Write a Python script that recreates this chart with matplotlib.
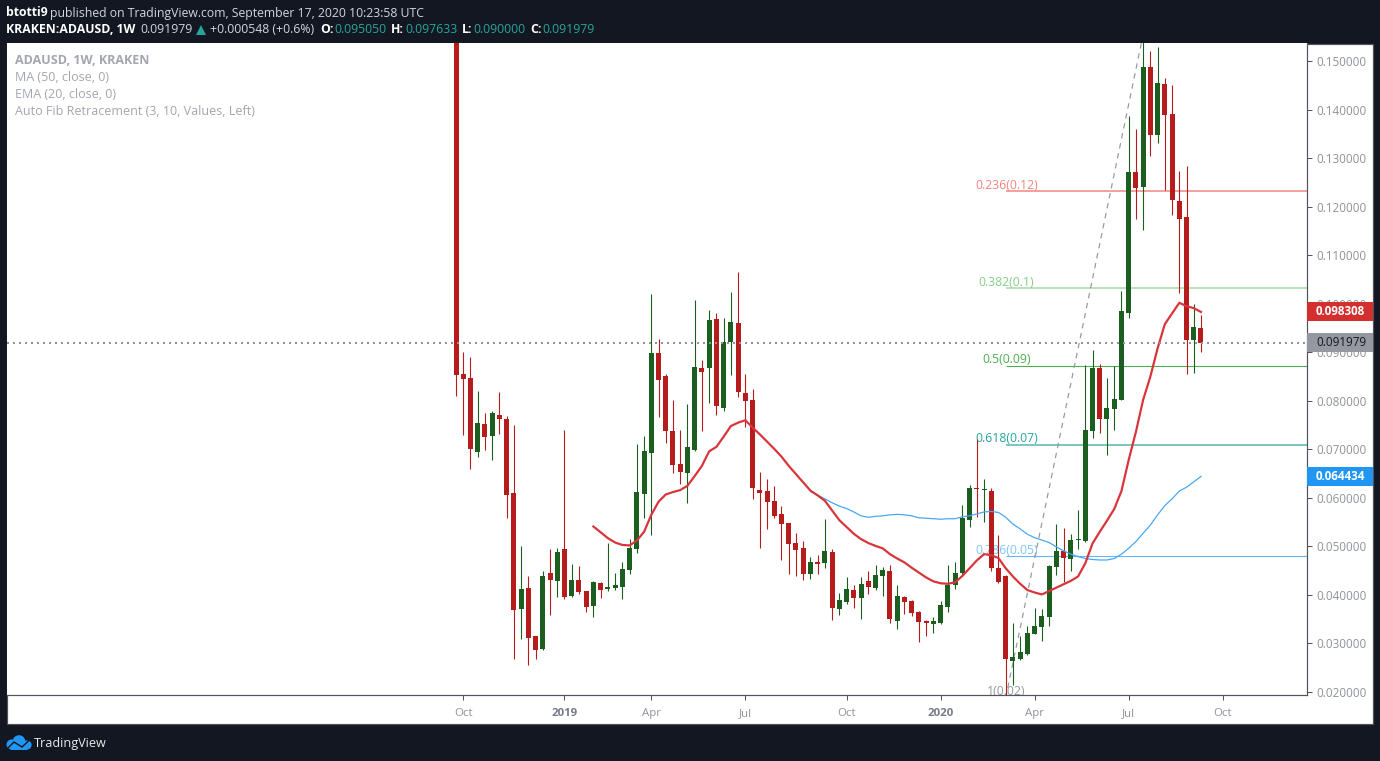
import numpy as np
import matplotlib
matplotlib.use('Agg')
import matplotlib.pyplot as plt
from matplotlib.patches import Rectangle, Circle, Polygon

plt.rcParams['font.family'] = ['Open Sans', 'DejaVu Sans']

# Weekly candles, index 0 = week of 24 Sep 2018
opens = [.1700, .0855, .0847, .0695, .0752, .0728, .0771, .0763, .0610, .0371,
         .0414, .0315, .0289, .0445, .0429, .0495, .0398, .0431, .0408, .0377,
         .0425, .0412, .0414, .0416, .0451, .0495, .0608, .0693, .0899, .0851,
         .0738, .0670, .0651, .0699, .0868, .0868, .0969, .0785, .0921, .0960,
         .0816, .0802, .0616, .0614, .0594, .0567, .0548, .0507, .0497, .0443,
         .0468, .0466, .0489, .0371, .0385, .0410, .0394, .0429, .0414, .0439,
         .0449, .0346, .0396, .0388, .0365, .0346, .0340, .0342, .0375, .0421,
         .0445, .0554, .0620, .0616, .0614, .0456, .0439, .0264, .0268, .0278,
         .0320, .0334, .0355, .0458, .0491, .0474, .0513, .0511, .0738, .0868,
         .0763, .0783, .0802, .0981, .1272, .1241, .1488, .1348, .1453, .1391,
         .1212, .1179, .0925, .09505]
highs = [.1750, .0901, .0890, .0820, .0775, .0779, .0818, .0769, .0750, .0501,
         .0439, .0316, .0449, .0495, .0497, .0740, .0464, .0460, .0409, .0429,
         .0426, .0507, .0445, .0468, .0515, .0711, .0728, .1020, .0927, .0855,
         .0802, .0740, .0793, .1008, .0884, .0987, .0981, .0971, .1024, .1066,
         .0855, .0824, .0653, .0639, .0625, .0583, .0549, .0528, .0511, .0478,
         .0482, .0556, .0495, .0404, .0437, .0421, .0437, .0449, .0462, .0458,
         .0462, .0421, .0397, .0390, .0366, .0348, .0355, .0388, .0462, .0468,
         .0585, .0627, .0721, .0639, .0620, .0524, .0441, .0342, .0315, .0336,
         .0373, .0371, .0462, .0546, .0538, .0526, .0575, .0874, .0905, .0876,
         .0847, .0872, .1026, .1387, .1360, .1555, .1521, .1529, .1465, .1451,
         .1274, .1284, .0999, .097633]
lows = [.0809, .0730, .0660, .0684, .0699, .0678, .0732, .0559, .0268, .0309,
        .0256, .0268, .0287, .0359, .0396, .0392, .0396, .0402, .0365, .0355,
        .0394, .0408, .0410, .0392, .0443, .0486, .0559, .0524, .0767, .0713,
        .0651, .0629, .0589, .0697, .0738, .0796, .0771, .0779, .0853, .0808,
        .0747, .0598, .0497, .0536, .0559, .0472, .0443, .0439, .0431, .0433,
        .0443, .0456, .0348, .0359, .0381, .0373, .0350, .0402, .0410, .0398,
        .0342, .0330, .0361, .0357, .0303, .0315, .0322, .0341, .0365, .0412,
        .0441, .0540, .0561, .0550, .0449, .0425, .0188, .0214, .0266, .0276,
        .0319, .0305, .0336, .0441, .0427, .0449, .0495, .0509, .0723, .0734,
        .0688, .0740, .0801, .0971, .1175, .1152, .1305, .1331, .1234, .1183,
        .1022, .0855, .0857, .0900]
closes = [.0853, .0845, .0701, .0754, .0725, .0775, .0763, .0606, .0369, .0412,
          .0311, .0287, .0439, .0431, .0489, .0396, .0431, .0406, .0375, .0427,
          .0410, .0416, .0421, .0453, .0497, .0612, .0697, .0899, .0843, .0738,
          .0668, .0653, .0705, .0870, .0859, .0967, .0789, .0921, .0962, .0818,
          .0800, .0620, .0610, .0592, .0563, .0546, .0505, .0493, .0443, .0468,
          .0464, .0491, .0373, .0390, .0412, .0394, .0423, .0416, .0441, .0451,
          .0350, .0398, .0385, .0363, .0344, .0342, .0346, .0379, .0421, .0445,
          .0559, .0620, .0618, .0618, .0456, .0427, .0268, .0272, .0282, .0322,
          .0336, .0357, .0460, .0491, .0476, .0513, .0515, .0740, .0868, .0763,
          .0785, .0804, .0985, .1272, .1239, .1488, .1348, .1455, .1389, .1214,
          .1175, .0925, .0952, .091979]

# EMA 20 starts at candle 19, MA 50 at candle 49
ema_start = 19
ema = [.0541, .0529, .0517, .0508, .0503, .0502, .0512, .0530, .0565, .0592,
       .0607, .0612, .0616, .0625, .0645, .0666, .0696, .0705, .0726, .0748,
       .0755, .0760, .0745, .0731, .0716, .0701, .0685, .0666, .0649, .0632,
       .0615, .0605, .0594, .0574, .0554, .0540, .0526, .0515, .0507, .0501,
       .0496, .0484, .0475, .0467, .0456, .0446, .0436, .0428, .0424, .0423,
       .0426, .0439, .0455, .0471, .0484, .0482, .0476, .0455, .0438, .0423,
       .0410, .0405, .0401, .0408, .0415, .0422, .0429, .0438, .0465, .0506,
       .0530, .0553, .0577, .0614, .0678, .0736, .0802, .0850, .0908, .0958,
       .0980, .1002, .0995, .0991, .098308]
ma_start = 49
ma = [.0613, .0606, .0598, .0590, .0583, .0578, .0571, .0563, .0560, .0562,
      .0563, .0565, .0566, .0565, .0563, .0559, .0558, .0557, .0556, .0557,
      .0557, .0561, .0563, .0567, .0571, .0572, .0570, .0560, .0546, .0536,
      .0525, .0518, .0513, .0508, .0499, .0491, .0484, .0479, .0475, .0473,
      .0472, .0472, .0475, .0484, .0496, .0510, .0527, .0544, .0565, .0584,
      .0598, .0614, .0622, .0633, .064434]

# Auto fib, anchored at candles 76 (low) and 95 (high)
fib_anchor = 76
fib_top = 95
fib_low = .0188
fib_high = .1555
fib_prices = [.1232, .1032, .0872, .0709, .0480, .0188]
fib_labels = ['0.236(0.12)', '0.382(0.1)', '0.5(0.09)', '0.618(0.07)', '0.786(0.05)', '1(0.02)']
fib_colors = ['#f28b86', '#a9dcab', '#4caf50', '#7cc8bd', '#64b5f6', '#a0a3ab']
fib_text_colors = ['#f4837d', '#86cf89', '#4caf50', '#26a69a', '#7fc4f8', '#9598a1']
fib_widths = [1.6, 1.6, 1.1, 2, 1.1, 1]

tick_weeks = [1, 15, 27, 40, 54, 67, 80, 93, 106]
tick_names = ['Oct', '2019', 'Apr', 'Jul', 'Oct', '2020', 'Apr', 'Jul', 'Oct']
price_ticks = [.02, .03, .04, .05, .06, .07, .08, .09, .10, .11, .12, .13, .14, .15]

RED = '#b71c1c'
GREEN = '#1b5e20'
DARK = '#131722'
GREY = '#8f929b'
BORDER = '#50535e'
TEAL = '#26a69a'

W, H = 1380, 761
fig = plt.figure(figsize=(W / 100, H / 100), dpi=100, facecolor=DARK)


def pt(px):
    return px * 72 / 100


# Pixel overlay for the page furniture
bg = fig.add_axes([0, 0, 1, 1], zorder=0)
bg.set_xlim(0, W)
bg.set_ylim(H, 0)
bg.axis('off')
bg.add_patch(Rectangle((6.5, 43.5), 1366.5, 680.5, fc='white', ec=BORDER, lw=pt(1.2)))

# Price pane
ax = fig.add_axes([7 / W, 1 - 695 / H, 1300 / W, 652 / H], zorder=1)
ax.set_facecolor('white')
x0 = -449 / 7.233
ax.set_xlim(x0, x0 + 1300 / 7.233)
ymin, ymax = .01938, .15373
ax.set_ylim(ymin, ymax)
for side in ['top', 'left']:
    ax.spines[side].set_visible(False)
for side in ['right', 'bottom']:
    ax.spines[side].set_color(BORDER)
    ax.spines[side].set_linewidth(pt(1.2))

ax.yaxis.tick_right()
ax.set_yticks(price_ticks)
ax.set_yticklabels(['%.6f' % p for p in price_ticks], fontsize=pt(11.6), color=GREY)
ax.tick_params(axis='y', length=pt(5), width=pt(1), color=BORDER, pad=pt(4))
ax.set_xticks(tick_weeks)
ax.set_xticklabels(tick_names, fontsize=pt(11.5), color=GREY)
ax.tick_params(axis='x', length=pt(5), width=pt(1), color=BORDER, pad=pt(8))
for lab in ax.get_xticklabels():
    if lab.get_text().startswith('20'):
        lab.set_fontweight('bold')
        lab.set_color('#787b86')

# Fib levels sit behind the candles
for price, name, col, tcol, lw in zip(fib_prices, fib_labels, fib_colors, fib_text_colors, fib_widths):
    if price > fib_low:
        ax.plot([fib_anchor, x0 + 1300 / 7.233], [price, price], color=col, lw=pt(lw), zorder=1,
                solid_capstyle='butt')
    ax.text(fib_anchor + 0.1, price - .0001, name, color=tcol, fontsize=pt(12.2), ha='center',
            va='bottom', zorder=1, clip_on=True)
ax.plot([fib_anchor, fib_top], [fib_low, fib_high], color='#9598a1', lw=pt(1.2), ls=(0, (4.5, 4)), zorder=1)

# Candles
x = np.arange(len(opens))
o = np.array(opens)
h = np.array(highs)
l = np.array(lows)
c = np.array(closes)
colors = [RED if a > b else GREEN for a, b in zip(o, c)]
ax.vlines(x, l, h, colors=colors, lw=pt(1.1), zorder=2)
ax.bar(x, np.abs(o - c), bottom=np.minimum(o, c), width=5 / 7.233, color=colors, lw=0, zorder=3)

# Moving averages on top
ax.plot(np.arange(len(ma)) + ma_start, ma, color='#42a5f5', lw=pt(1.2), zorder=4)
ax.plot(np.arange(len(ema)) + ema_start, ema, color='#d8343a', lw=pt(2.2), zorder=4)

# Last price
ax.axhline(closes[-1], color='#8f929b', lw=pt(2), ls=(0, (1, 2)), zorder=4)

# Price tags on the scale
box_w = (1373 - 1307) / 1300
box_h = (ymax - ymin) * 19 / 652
yt = ax.get_yaxis_transform()
tags = [(ema[-1], '#d32f2f', 'white', 'bold'),
        (closes[-1], '#9598a1', DARK, 'normal'),
        (ma[-1], '#2196f3', 'white', 'bold')]
for price, fc, tc, wt in tags:
    ax.add_patch(Rectangle((1, price - box_h / 2), box_w, box_h, transform=yt, fc=fc, ec='none',
                           clip_on=False, zorder=6))
    ax.text(1 + 9 / 1300, price, '%.6f' % price, transform=yt, color=tc, fontsize=pt(11.6),
            fontweight=wt, va='center', ha='left', clip_on=False, zorder=7)

# Header
top = fig.add_axes([0, 0, 1, 1], zorder=2)
top.set_xlim(0, W)
top.set_ylim(H, 0)
top.axis('off')
LIGHT = '#d1d4dc'


def txt(px, py, s, col=LIGHT, wt='normal', size=12.2):
    top.text(px, py, s, color=col, fontweight=wt, fontsize=pt(size), va='center', ha='left')


txt(6, 13, 'btotti9', 'white', 'bold')
txt(50.5, 13, 'published on TradingView.com, September 17, 2020 10:23:58 UTC')
txt(6, 29.5, 'KRAKEN:ADAUSD, 1W', 'white', 'bold')
txt(140, 29.5, '0.091979')
top.add_patch(Polygon([[196, 35], [206, 35], [201, 25]], fc=TEAL, ec='none'))
txt(210, 29.5, '+0.000548 (+0.6%)')
for px, s in [(320, 'O:'), (391, 'H:'), (462, 'L:'), (530, 'C:')]:
    txt(px, 29.5, s, 'white', 'bold')
for px, s in [(334, '0.095050'), (405, '0.097633'), (473, '0.090000'), (542, '0.091979')]:
    txt(px, 29.5, s, TEAL)

# Legend
LEG = '#a3a6af'
txt(15, 60.5, 'ADAUSD, 1W, KRAKEN', LEG, 'bold', 12.5)
txt(15, 77.5, 'MA (50, close, 0)', LEG, 'normal', 12.5)
txt(15, 94.5, 'EMA (20, close, 0)', LEG, 'normal', 12.5)
txt(15, 111.5, 'Auto Fib Retracement (3, 10, Values, Left)', LEG, 'normal', 12.5)

# Logo
BLUE = '#2196f3'
top.add_patch(Circle((11.5, 744.5), 5, fc=BLUE, ec='none'))
top.add_patch(Circle((19, 741.5), 6.3, fc=BLUE, ec='none'))
top.add_patch(Circle((27, 745), 4.6, fc=BLUE, ec='none'))
top.add_patch(Rectangle((11, 745), 16, 4.5, fc=BLUE, ec='none'))
top.plot([7, 14, 22, 29], [749, 742, 747, 740.5], color=DARK, lw=pt(1.4))
txt(34, 743, 'TradingView', '#e8e9ec', 'normal', 12.6)

fig.savefig('out.png', dpi=100, facecolor=DARK)
